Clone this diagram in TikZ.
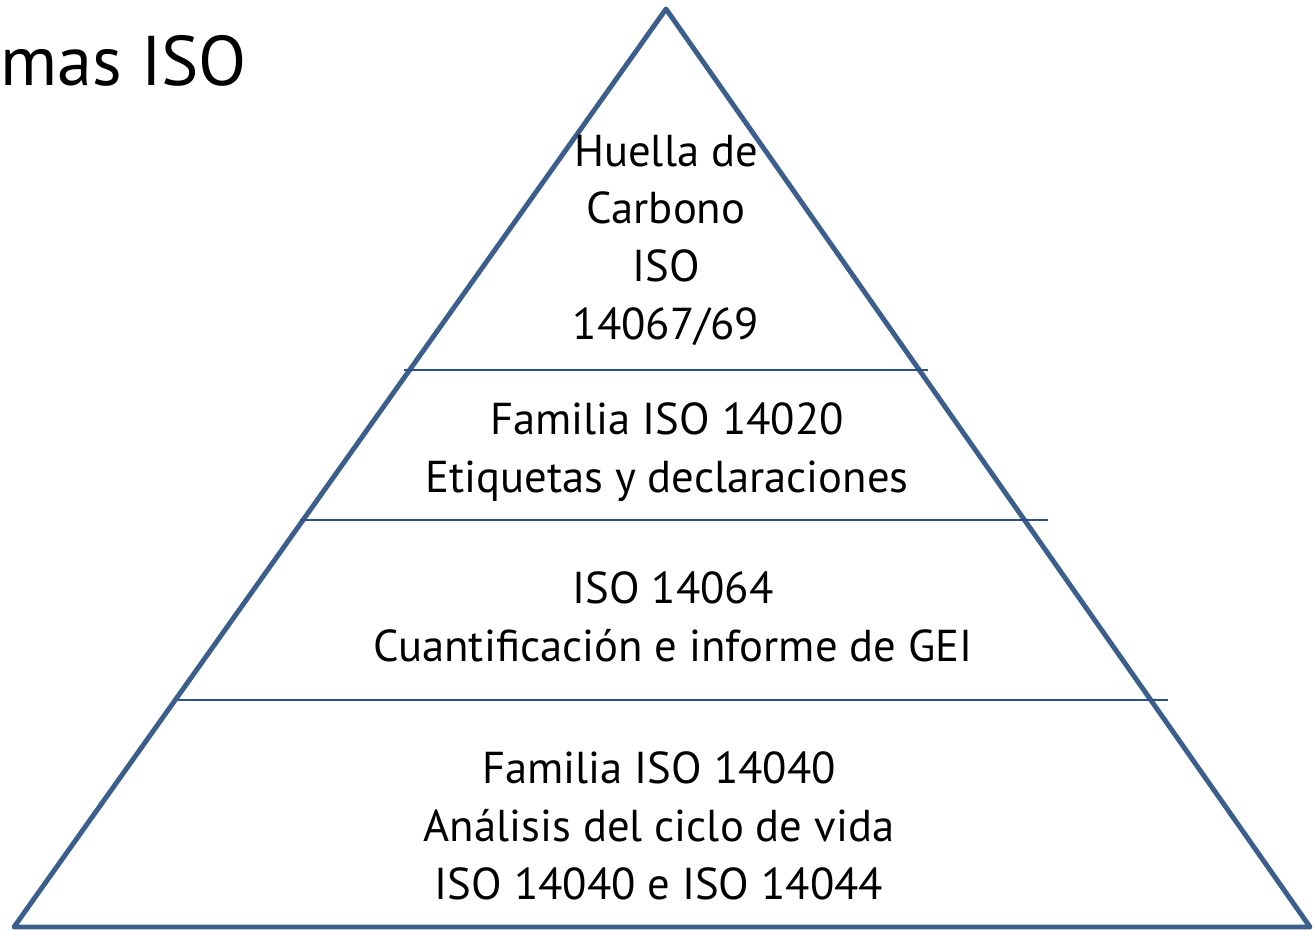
\documentclass[tikz,border=0pt]{standalone}
\usepackage{fontspec}
\setmainfont{PT Sans}
\usetikzlibrary{positioning}
\definecolor{pyrblue}{HTML}{3B5E8C}
\definecolor{layblue}{HTML}{2C4F85}

\begin{document}
\begin{tikzpicture}[x=0.01cm, y=-0.01cm,
        txt/.style={align=center, font=\fontsize{12.7}{16.4}\selectfont}]
    \useasboundingbox (0,0) rectangle (1313,930);
    % pyramid
    \draw[pyrblue, line width=1.4pt, line join=round] (666,9) -- (1310,927) -- (14,927) -- cycle;
    \draw[layblue, line width=0.6pt] (404,370) -- (928,370);
    \draw[layblue, line width=0.6pt] (300,520) -- (1048,520);
    \draw[layblue, line width=0.6pt] (178,700) -- (1168,700);

    \node[anchor=west, inner sep=0pt, font=\fontsize{20}{24}\selectfont] (title) at (0,61) {mas ISO};
    \node[txt] (huella) at (666,240) {Huella de\\ Carbono\\ ISO\\ 14067/69};
    \node[txt] (etiq) at (667,452) {Familia ISO 14020\\ Etiquetas y declaraciones};
    \node[txt] (gei) at (673,617) {ISO 14064\\ Cuantificación e informe de GEI};
    \node[txt] (acv) at (659,826) {Familia ISO 14040\\ Análisis del ciclo de vida\\ ISO 14040 e ISO 14044};
\end{tikzpicture}
\end{document}
